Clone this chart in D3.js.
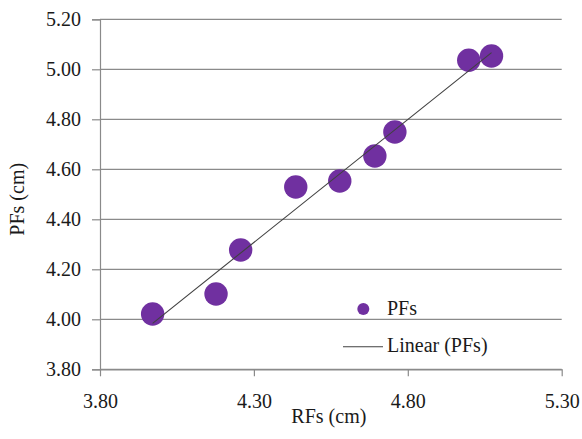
<!DOCTYPE html>
<html>
<head>
<meta charset="utf-8">
<script src="https://cdn.jsdelivr.net/npm/d3@7"></script>
</head>
<body style="margin:0">
<svg id="chart" width="582" height="439"></svg>
<script>
// RFs vs PFs measurements (cm)
const rfs = [3.971, 4.177, 4.257, 4.436, 4.579, 4.693, 4.758, 4.998, 5.072];
const pfs = [4.021, 4.101, 4.277, 4.529, 4.553, 4.653, 4.749, 5.036, 5.053];

const xTicks = [3.80, 4.30, 4.80, 5.30];
const yTicks = [3.80, 4.00, 4.20, 4.40, 4.60, 4.80, 5.00, 5.20];

const seriesName = "PFs";
const trendName = "Linear (PFs)";
const xTitle = "RFs (cm)";
const yTitle = "PFs (cm)";

const svg = d3.select("#chart");
const plot = { left: 100, right: 561.7, top: 19.3, bottom: 369.3 };

const x = d3.scaleLinear().domain([3.80, 5.30]).range([plot.left, plot.right]);
const y = d3.scaleLinear().domain([3.80, 5.20]).range([plot.bottom, plot.top]);

const axisColor = "#8a8a8a";
const textColor = "#1a1a1a";
const purple = "#7030a0";

// horizontal gridlines
svg.append("g")
  .selectAll("line")
  .data(yTicks)
  .join("line")
  .attr("x1", plot.left).attr("x2", plot.right)
  .attr("y1", d => y(d)).attr("y2", d => y(d))
  .attr("stroke", axisColor).attr("stroke-width", 1.2);

// y axis
const yAxis = svg.append("g")
  .attr("transform", `translate(${plot.left},0)`)
  .call(d3.axisLeft(y).tickValues(yTicks).tickFormat(d3.format(".2f")).tickSize(8).tickPadding(11));
yAxis.attr("font-family", "Times New Roman").attr("font-size", 20);
yAxis.select(".domain").attr("stroke", axisColor).attr("stroke-width", 1.2);
yAxis.selectAll(".tick line").attr("stroke", axisColor).attr("stroke-width", 1.2);
yAxis.selectAll(".tick text").attr("fill", textColor);

// x axis
const xAxis = svg.append("g")
  .attr("transform", `translate(0,${plot.bottom})`)
  .call(d3.axisBottom(x).tickValues(xTicks).tickFormat(d3.format(".2f")).tickSize(7).tickSizeOuter(0).tickPadding(18));
xAxis.attr("font-family", "Times New Roman").attr("font-size", 20);
xAxis.select(".domain").attr("stroke", axisColor).attr("stroke-width", 1.2);
xAxis.selectAll(".tick line").attr("stroke", axisColor).attr("stroke-width", 1.2);
xAxis.selectAll(".tick text").attr("fill", textColor);

// points
const pts = rfs.map((v, i) => ({ x: v, y: pfs[i] }));

svg.append("g")
  .selectAll("circle")
  .data(pts)
  .join("circle")
  .attr("cx", d => x(d.x))
  .attr("cy", d => y(d.y))
  .attr("r", 11.7)
  .attr("fill", purple);

// least-squares trend line
const mx = d3.mean(pts, d => d.x), my = d3.mean(pts, d => d.y);
const slope = d3.sum(pts, d => (d.x - mx) * (d.y - my)) / d3.sum(pts, d => (d.x - mx) ** 2);
const intercept = my - slope * mx;
const [x0, x1] = d3.extent(rfs);
svg.append("line")
  .attr("x1", x(x0)).attr("y1", y(intercept + slope * x0))
  .attr("x2", x(x1)).attr("y2", y(intercept + slope * x1))
  .attr("stroke", "#404040").attr("stroke-width", 1.1);

// legend and titles share one text style
const labels = svg.append("g")
  .attr("font-family", "Times New Roman")
  .attr("font-size", 20)
  .attr("fill", textColor);

labels.append("circle").attr("cx", 363.3).attr("cy", 309).attr("r", 6).attr("fill", purple);
labels.append("text").attr("x", 387).attr("y", 315).text(seriesName);
labels.append("line").attr("x1", 343).attr("x2", 383).attr("y1", 346.7).attr("y2", 346.7)
  .attr("stroke", "#404040").attr("stroke-width", 1.1);
labels.append("text").attr("x", 387).attr("y", 352).text(trendName);

labels.append("text")
  .attr("x", (plot.left + plot.right) / 2 - 2)
  .attr("y", 423)
  .attr("text-anchor", "middle")
  .text(xTitle);

labels.append("text")
  .attr("transform", `translate(24,${(plot.top + plot.bottom) / 2 + 5}) rotate(-90)`)
  .attr("text-anchor", "middle")
  .text(yTitle);
</script>
</body>
</html>
